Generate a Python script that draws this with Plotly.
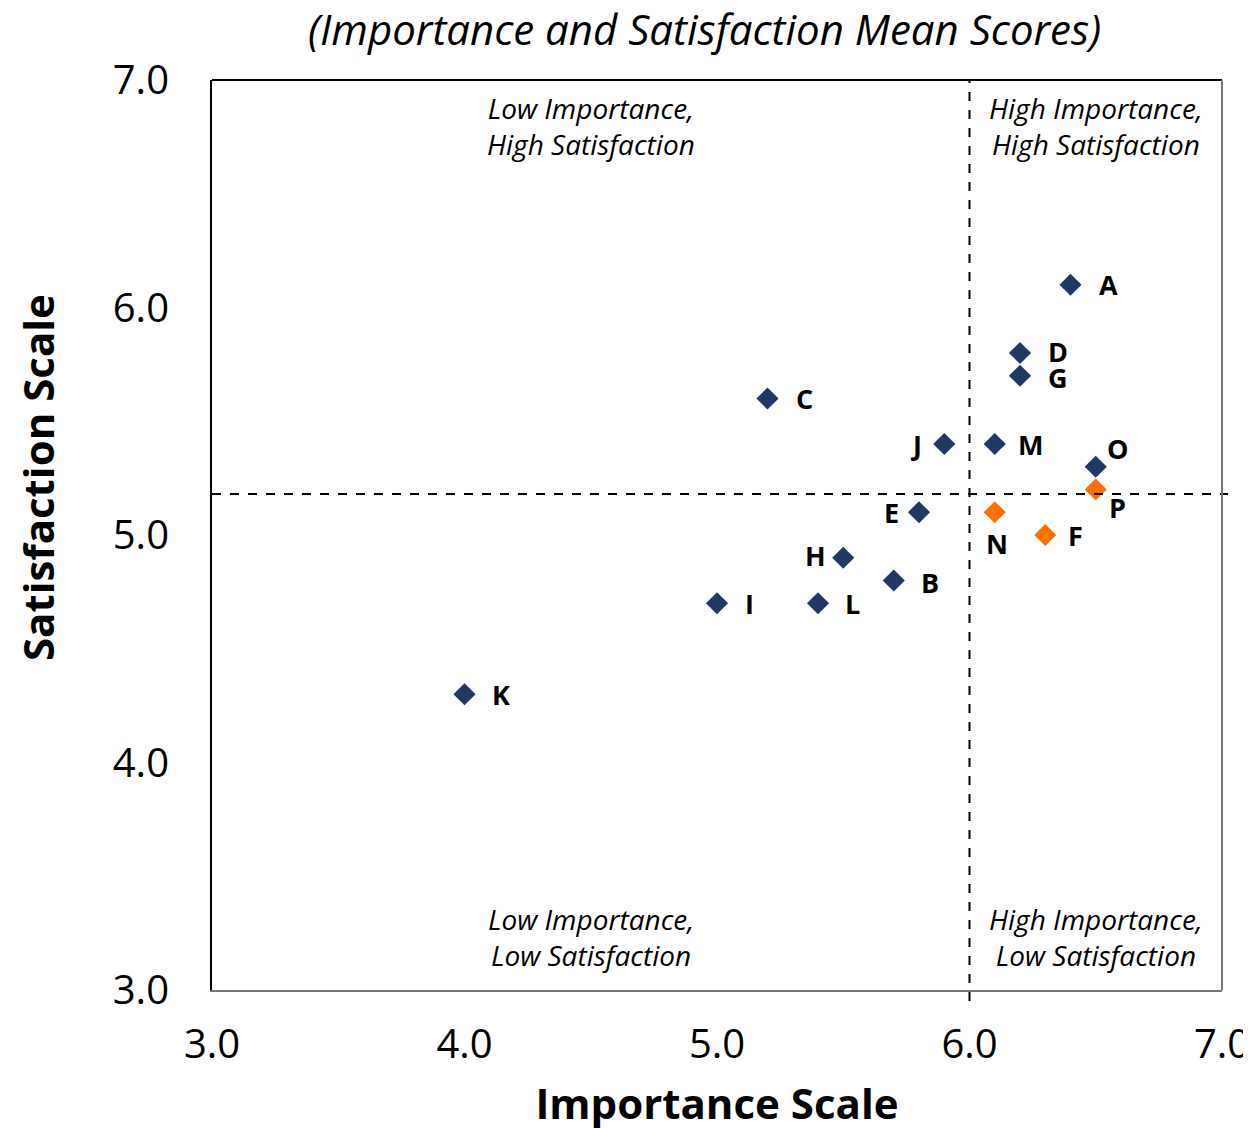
import plotly.graph_objects as go

labels = ["A", "B", "C", "D", "E", "G", "H", "I", "J", "K", "L", "M", "O"]
importance = [6.4, 5.7, 5.2, 6.2, 5.8, 6.2, 5.5, 5.0, 5.9, 4.0, 5.4, 6.1, 6.5]
satisfaction = [6.1, 4.8, 5.6, 5.8, 5.1, 5.7, 4.9, 4.7, 5.4, 4.3, 4.7, 5.4, 5.3]

hl_labels = ["F", "N", "P"]
hl_importance = [6.3, 6.1, 6.5]
hl_satisfaction = [5.0, 5.1, 5.2]

mean_importance = 6.0
mean_satisfaction = 5.18

quadrants = ["Low Importance,<br>High Satisfaction", "High Importance,<br>High Satisfaction",
             "Low Importance,<br>Low Satisfaction", "High Importance,<br>Low Satisfaction"]
quad_x = [4.5, 6.5, 4.5, 6.5]
quad_y = [6.80, 6.80, 3.235, 3.235]

ticks = [3.0, 4.0, 5.0, 6.0, 7.0]
tick_text = ["3.0", "4.0", "5.0", "6.0", "7.0"]

# label offsets in pixels (dx, dy)
offsets = {
    "A": (38, 0), "B": (36, -2), "C": (37, 0), "D": (38, 2), "E": (-28, 0), "G": (38, -2),
    "H": (-28, 2), "I": (32, 0), "J": (-28, 0), "K": (36, 0), "L": (34, 0), "M": (36, 0),
    "O": (22, 18), "F": (30, 0), "N": (2, -31), "P": (22, -18),
}

navy = "#1f3864"
orange = "#ff7000"
font = "Open Sans"

fig = go.Figure()
fig.add_trace(go.Scatter(x=importance, y=satisfaction, mode="markers",
                         marker=dict(symbol="diamond", size=17, color=navy), hoverinfo="skip"))
fig.add_trace(go.Scatter(x=hl_importance, y=hl_satisfaction, mode="markers",
                         marker=dict(symbol="diamond", size=17, color=orange), hoverinfo="skip"))

anns = []
for lab, xv, yv in list(zip(labels, importance, satisfaction)) + list(zip(hl_labels, hl_importance, hl_satisfaction)):
    dx, dy = offsets[lab]
    anns.append(dict(x=xv, y=yv, xref="x", yref="y", text=lab, showarrow=False,
                     xshift=dx, yshift=dy, font=dict(family=font, size=27, color="black", weight="bold")))
for q, xv, yv in zip(quadrants, quad_x, quad_y):
    anns.append(dict(x=xv, y=yv, xref="x", yref="y", text=q, showarrow=False,
                     font=dict(family=font, size=28, color="black", style="italic")))
anns.append(dict(x=0.488, y=1.0, xref="paper", yref="paper", yanchor="middle", yshift=52,
                 text="(Importance and Satisfaction Mean Scores)", showarrow=False,
                 font=dict(family=font, size=42, color="black", style="italic")))
anns.append(dict(x=0, y=0.5626, xref="paper", yref="paper", xanchor="center", yanchor="middle",
                 xshift=-175, textangle=-90, text="Satisfaction Scale", showarrow=False,
                 font=dict(family=font, size=42, color="black", weight="bold")))

shapes = [
    dict(type="line", xref="x", yref="paper", x0=mean_importance, x1=mean_importance, y0=-0.012, y1=1,
         line=dict(color="black", width=2, dash="dash")),
    dict(type="line", xref="paper", yref="y", x0=0, x1=1.006, y0=mean_satisfaction, y1=mean_satisfaction,
         line=dict(color="black", width=2, dash="dash")),
    dict(type="line", xref="paper", yref="paper", x0=0, x1=1, y0=1, y1=1, line=dict(color="black", width=2)),
    dict(type="line", xref="paper", yref="paper", x0=1, x1=1, y0=0, y1=1, line=dict(color="#777777", width=2)),
]

fig.update_layout(
    width=1251, height=1128,
    margin=dict(l=204, r=37, t=72, b=146),
    paper_bgcolor="white", plot_bgcolor="white",
    showlegend=False,
    annotations=anns, shapes=shapes,
    xaxis=dict(range=[3, 7], tickvals=ticks, ticktext=tick_text, showgrid=False, zeroline=False,
               showline=True, linecolor="#777777", linewidth=2, mirror=False, ticks="",
               automargin=False, ticklabelstandoff=18,
               tickfont=dict(family=font, size=40, color="black"),
               title=dict(text="Importance Scale", standoff=21,
                          font=dict(family=font, size=42, color="black", weight="bold"))),
    yaxis=dict(range=[3, 7], tickvals=ticks, ticktext=tick_text, showgrid=False, zeroline=False,
               showline=True, linecolor="black", linewidth=2, ticks="",
               automargin=False, ticklabelstandoff=33,
               tickfont=dict(family=font, size=40, color="black")),
)

fig.write_html("out.html")
